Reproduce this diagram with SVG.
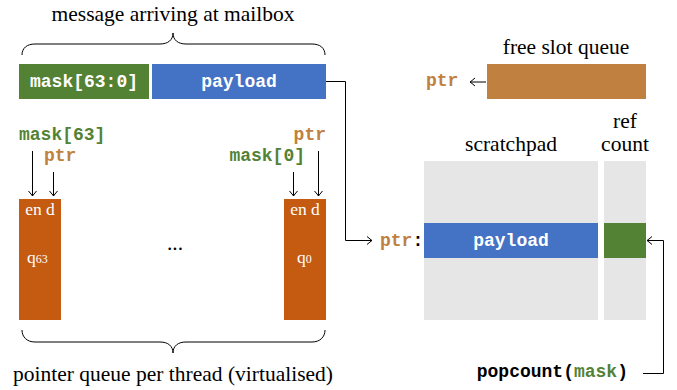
<svg xmlns="http://www.w3.org/2000/svg" width="677" height="390" viewBox="0 0 677 390">
<defs>
<marker id="to" viewBox="-6 -5 7 10" refX="0" refY="0" markerWidth="7" markerHeight="10" markerUnits="userSpaceOnUse" orient="auto">
<path d="M-5,-4 Q-1.5,-1 0,0 Q-1.5,1 -5,4" fill="none" stroke="#000" stroke-width="1"/>
</marker>
<style>
.serif{font-family:"Liberation Serif","Times New Roman",serif;font-size:21.5px;fill:#000}
.mono{font-family:"Liberation Mono","Courier New",monospace;font-weight:bold;font-size:18px}
.wt{fill:#fff}
.green{fill:#548235}
.brown{fill:#BF8040}
.blk{fill:#000}
.ln{fill:none;stroke:#000;stroke-width:1}
.ar{fill:none;stroke:#000;stroke-width:1;marker-end:url(#to)}
.q{font-family:"Liberation Serif","Times New Roman",serif;fill:#fff}
</style>
</defs>
<rect width="677" height="390" fill="#fff"/>

<g id="title">
<text class="serif" x="173" y="21" text-anchor="middle">message arriving at mailbox</text>
<path class="ln" d="M22,55 C22,48 27,44 35,44 L160,44 C168,44 173,40 173,33 C173,40 178,44 186,44 L312,44 C320,44 325,48 325,55"/>
</g>

<g id="mask-field">
<rect x="19" y="64" width="130" height="35" fill="#548235"/>
<text class="mono wt" x="84" y="87" text-anchor="middle">mask[63:0]</text>
</g>
<g id="payload-field">
<rect x="152" y="64" width="174" height="35" fill="#4472C4"/>
<text class="mono wt" x="239" y="87" text-anchor="middle">payload</text>
</g>

<g id="queue-63">
<rect x="19" y="199" width="42" height="121" fill="#C55A11"/>
<text class="q" x="40" y="215" text-anchor="middle" font-size="17.5">en d</text>
<text class="q" x="27" y="263" font-size="17.5">q<tspan font-size="12">63</tspan></text>
</g>
<g id="queue-0">
<rect x="284" y="199" width="42" height="121" fill="#C55A11"/>
<text class="q" x="305" y="215" text-anchor="middle" font-size="17.5">en d</text>
<text class="q" x="297" y="263" font-size="17.5">q<tspan font-size="12">0</tspan></text>
</g>
<text class="serif" x="175" y="250" text-anchor="middle">...</text>

<g id="queue-labels">
<text class="mono green" x="19" y="140">mask[63]</text>
<text class="mono brown" x="44" y="161">ptr</text>
<text class="mono brown" x="326" y="140" text-anchor="end">ptr</text>
<text class="mono green" x="305" y="161" text-anchor="end">mask[0]</text>
</g>

<g id="bottom-brace">
<path class="ln" d="M22,330 C22,337 27,342 35,342 L160,342 C168,342 173,346 173,353 C173,346 178,342 186,342 L312,342 C320,342 325,337 325,330"/>
<text class="serif" x="173" y="381" text-anchor="middle">pointer queue per thread (virtualised)</text>
</g>

<g id="free-slot-queue">
<text class="serif" x="566" y="54" text-anchor="middle">free slot queue</text>
<rect x="487" y="64" width="159" height="35" fill="#BF8040"/>
<text class="mono brown" x="426" y="86">ptr</text>
</g>

<g id="scratchpad">
<text class="serif" x="511" y="151" text-anchor="middle">scratchpad</text>
<rect x="424" y="161" width="174" height="159" fill="#E6E6E6"/>
<rect x="424" y="223" width="174" height="35" fill="#4472C4"/>
<text class="mono wt" x="511" y="246" text-anchor="middle">payload</text>
<text class="mono" x="380" y="246"><tspan class="brown">ptr</tspan><tspan class="blk">:</tspan></text>
</g>

<g id="ref-count">
<text class="serif" x="625" y="128" text-anchor="middle" font-size="20.5">ref</text>
<text class="serif" x="625" y="151" text-anchor="middle" font-size="20.5">count</text>
<rect x="604" y="161" width="42" height="159" fill="#E6E6E6"/>
<rect x="604" y="223" width="42" height="35" fill="#548235"/>
</g>

<g id="popcount">
<text class="mono blk" x="628" y="377" text-anchor="end">popcount(<tspan class="green">mask</tspan>)</text>
</g>

<g id="connectors">
<path class="ar" d="M326,81.5 H345.5 V240.5 H372"/>
<path class="ar" d="M486,82 H470"/>
<path class="ar" d="M643,373.5 H663.5 V240.5 H647"/>
<path class="ar" d="M32.5,151 V196"/>
<path class="ar" d="M53.5,172 V196"/>
<path class="ar" d="M293.5,172 V196"/>
<path class="ar" d="M318.5,151 V196"/>
</g>
</svg>
